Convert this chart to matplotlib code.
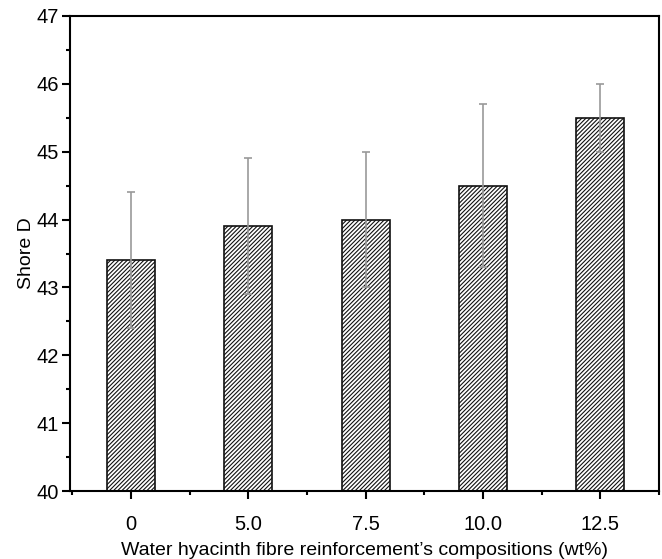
import matplotlib
matplotlib.use("Agg")
import matplotlib.pyplot as plt
from matplotlib.ticker import MultipleLocator

plt.rcParams['font.family'] = ['Liberation Sans', 'DejaVu Sans']
plt.rcParams['hatch.linewidth'] = 0.8
plt.rcParams['hatch.color'] = '#666666'

categories = ['0', '5.0', '7.5', '10.0', '12.5']
shore_d = [43.4, 43.9, 44.0, 44.5, 45.5]
errors = [1.0, 1.0, 1.0, 1.2, 0.5]

fig = plt.figure(figsize=(6.62, 5.59), dpi=100)
ax = fig.add_axes([0.1057, 0.1216, 0.8898, 0.8498])

x = list(range(len(categories)))
ax.bar(x, shore_d, width=0.41, color='white', edgecolor='#111111', linewidth=1.2,
       hatch='////////', zorder=2)
ax.errorbar(x, shore_d, yerr=errors, fmt='none', ecolor='#999999', elinewidth=1.2,
            capsize=3, capthick=1.2, zorder=3)

ax.set_ylim(40, 47)
ax.set_xlim(-0.52, 4.48)
ax.set_xticks(x)
ax.set_xticklabels(categories)
ax.set_xticks([i + 0.5 for i in range(-1, 5)], minor=True)
ax.yaxis.set_major_locator(MultipleLocator(1))
ax.yaxis.set_minor_locator(MultipleLocator(0.5))

for s in ax.spines.values():
    s.set_linewidth(1.5)
ax.tick_params(axis='both', which='major', direction='out', length=6, width=1.5, labelsize=14.5)
ax.tick_params(axis='both', which='minor', direction='out', length=3, width=1.5)
ax.tick_params(axis='x', which='major', pad=11)
ax.tick_params(axis='y', which='major', pad=2)

ax.set_ylabel('Shore D', fontsize=14, labelpad=1)
ax.set_xlabel("Water hyacinth fibre reinforcement\u2019s compositions (wt%)", fontsize=14, labelpad=6)

fig.savefig('out.png', dpi=100)
